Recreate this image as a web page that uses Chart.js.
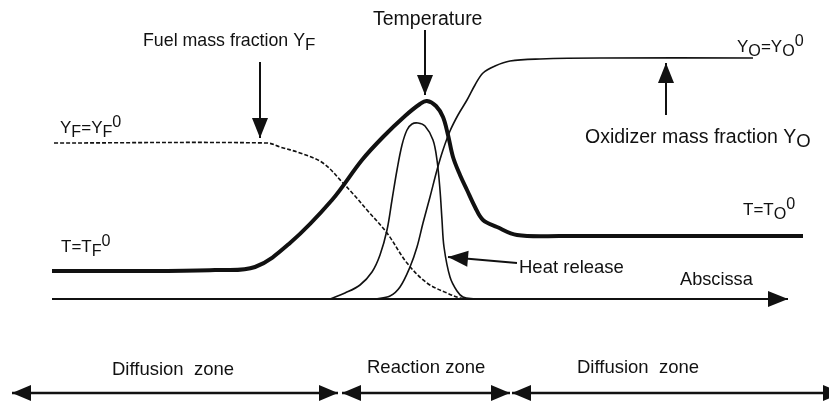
<!DOCTYPE html>
<html>
<head>
<meta charset="utf-8">
<script src="https://cdn.jsdelivr.net/npm/chart.js@4.4.1/dist/chart.umd.min.js"></script>
<style>
  html, body { margin: 0; padding: 0; background: #fff; }
  #flame { display: block; }
</style>
</head>
<body>
<canvas id="flame" width="829" height="401"></canvas>
<script>
// schematic units: x along the abscissa, y = height above the abscissa line
const temperatureX = [52, 150, 215, 255, 290, 332, 362, 383, 405, 420, 427, 436, 443, 448, 453, 460, 467, 475, 483, 497, 517, 560, 803];
const temperatureY = [28, 28, 29, 32, 56, 99, 139, 162, 183, 195, 198, 193, 182, 164, 142, 124, 109, 92, 79, 72, 64, 63, 63];

const heatX = [330, 345, 360, 372, 380, 387, 392, 397, 402, 407, 412, 418, 425, 433, 437, 440, 442, 444, 450, 457, 463, 475];
const heatY = [0, 6, 14, 27, 44, 69, 99, 129, 154, 169, 175, 176, 173, 159, 139, 109, 79, 52, 22, 8, 2, 0];

const oxidizerX = [375, 390, 400, 410, 417, 423, 430, 437, 443, 450, 458, 467, 475, 483, 495, 510, 540, 600, 753];
const oxidizerY = [0, 3, 12, 32, 52, 76, 102, 129, 149, 168, 184, 199, 214, 226, 233, 238, 240, 241, 241];

const fuelX = [54, 267, 280, 300, 323, 343, 355, 367, 387, 407, 427, 447, 460, 470];
const fuelY = [156, 156, 152, 146, 136, 116, 103, 89, 66, 36, 16, 6, 1, 0];

const abscissaX = [52, 788];

// arrows: [x0, y0, x1, y1], head at the second point
const pointerArrows = [
  [260, 237, 260, 161],   // fuel
  [425, 269, 425, 204],   // temperature
  [666, 184, 666, 236],   // oxidizer
  [517, 36, 448, 42]      // heat release
];
// zone arrows: [xStart, xEnd], heads at both ends
const zoneArrows = [[12, 338], [342, 510], [512, 842]];
const zoneLevel = -94;

const zoneLabels = ['Diffusion  zone', 'Reaction zone', 'Diffusion  zone'];
const zoneLabelX = [112, 367, 577];
const zoneLabelY = [-76, -74, -74];

const toPoints = (xs, ys) => xs.map((x, i) => ({ x: x, y: ys[i] }));

const datasets = [
  { data: toPoints(temperatureX, temperatureY), borderWidth: 4 },
  { data: toPoints(heatX, heatY), borderWidth: 1.6 },
  { data: toPoints(oxidizerX, oxidizerY), borderWidth: 1.6 },
  { data: toPoints(fuelX, fuelY), borderWidth: 1.6, borderDash: [4, 2] },
  { data: toPoints(abscissaX, [0, 0]), borderWidth: 2, arrow: 'end' }
];
pointerArrows.forEach(a => datasets.push({
  data: [{ x: a[0], y: a[1] }, { x: a[2], y: a[3] }], borderWidth: 2, arrow: 'end'
}));
zoneArrows.forEach(a => datasets.push({
  data: [{ x: a[0], y: zoneLevel }, { x: a[1], y: zoneLevel }], borderWidth: 2.5, arrow: 'both', headLen: 19
}));
datasets.forEach(d => {
  d.borderColor = '#111';
  d.pointRadius = 0;
  d.fill = false;
  d.tension = 0.35;
  d.borderJoinStyle = 'round';
});

function head(ctx, tip, from, len, half) {
  const ang = Math.atan2(tip.y - from.y, tip.x - from.x);
  ctx.save();
  ctx.translate(tip.x, tip.y);
  ctx.rotate(ang);
  ctx.beginPath();
  ctx.moveTo(0, 0);
  ctx.lineTo(-len, -half);
  ctx.lineTo(-len, half);
  ctx.closePath();
  ctx.fill();
  ctx.restore();
}

const arrowHeads = {
  id: 'arrowHeads',
  afterDatasetsDraw(chart) {
    const ctx = chart.ctx;
    ctx.fillStyle = '#111';
    chart.data.datasets.forEach((d, i) => {
      if (!d.arrow) return;
      const pts = chart.getDatasetMeta(i).data;
      const a = pts[0], b = pts[pts.length - 1];
      const len = d.headLen || 20;
      head(ctx, b, a, len, 8);
      if (d.arrow === 'both') head(ctx, a, b, len, 8);
    });
  }
};

// text labels: x, y (baseline) in chart units, size, parts [text, n|sub|sup]
const labels = [
  { x: 143, y: 253, size: 17.8, parts: [['Fuel mass fraction Y', 'n'], ['F', 'sub']] },
  { x: 373, y: 274, size: 19.5, parts: [['Temperature', 'n']] },
  { x: 737, y: 247, size: 17, parts: [['Y', 'n'], ['O', 'sub'], ['=Y', 'n'], ['O', 'sub'], ['0', 'sup']] },
  { x: 585, y: 156, size: 19.5, parts: [['Oxidizer mass fraction Y', 'n'], ['O', 'sub']] },
  { x: 60, y: 166, size: 17, parts: [['Y', 'n'], ['F', 'sub'], ['=Y', 'n'], ['F', 'sub'], ['0', 'sup']] },
  { x: 61, y: 47, size: 17, parts: [['T=T', 'n'], ['F', 'sub'], ['0', 'sup']] },
  { x: 743, y: 84, size: 17, parts: [['T=T', 'n'], ['O', 'sub'], ['0', 'sup']] },
  { x: 519, y: 26, size: 18.5, parts: [['Heat release', 'n']] },
  { x: 680, y: 14, size: 18.2, parts: [['Abscissa', 'n']] }
];
zoneLabels.forEach((t, i) => labels.push({ x: zoneLabelX[i], y: zoneLabelY[i], size: 18.5, parts: [[t, 'n']] }));

const textLabels = {
  id: 'textLabels',
  afterDraw(chart) {
    const ctx = chart.ctx;
    const sx = chart.scales.x, sy = chart.scales.y;
    ctx.save();
    ctx.fillStyle = '#111';
    ctx.textBaseline = 'alphabetic';
    labels.forEach(l => {
      let px = sx.getPixelForValue(l.x);
      const py = sy.getPixelForValue(l.y);
      l.parts.forEach(([t, mode]) => {
        const fs = mode === 'n' ? l.size : l.size * 0.95;
        const dy = mode === 'sub' ? 4 : mode === 'sup' ? -6 : 0;
        ctx.font = fs + 'px "Liberation Sans", Arial, sans-serif';
        ctx.fillText(t, px, py + dy);
        px += ctx.measureText(t).width;
      });
    });
    ctx.restore();
  }
};

new Chart(document.getElementById('flame'), {
  type: 'line',
  data: { datasets },
  options: {
    responsive: false,
    animation: false,
    layout: { padding: 0 },
    plugins: { legend: { display: false }, tooltip: { enabled: false } },
    scales: {
      x: { type: 'linear', min: 0, max: 829, display: false },
      y: { type: 'linear', min: -102, max: 299, display: false }
    }
  },
  plugins: [arrowHeads, textLabels]
});
</script>
</body>
</html>
